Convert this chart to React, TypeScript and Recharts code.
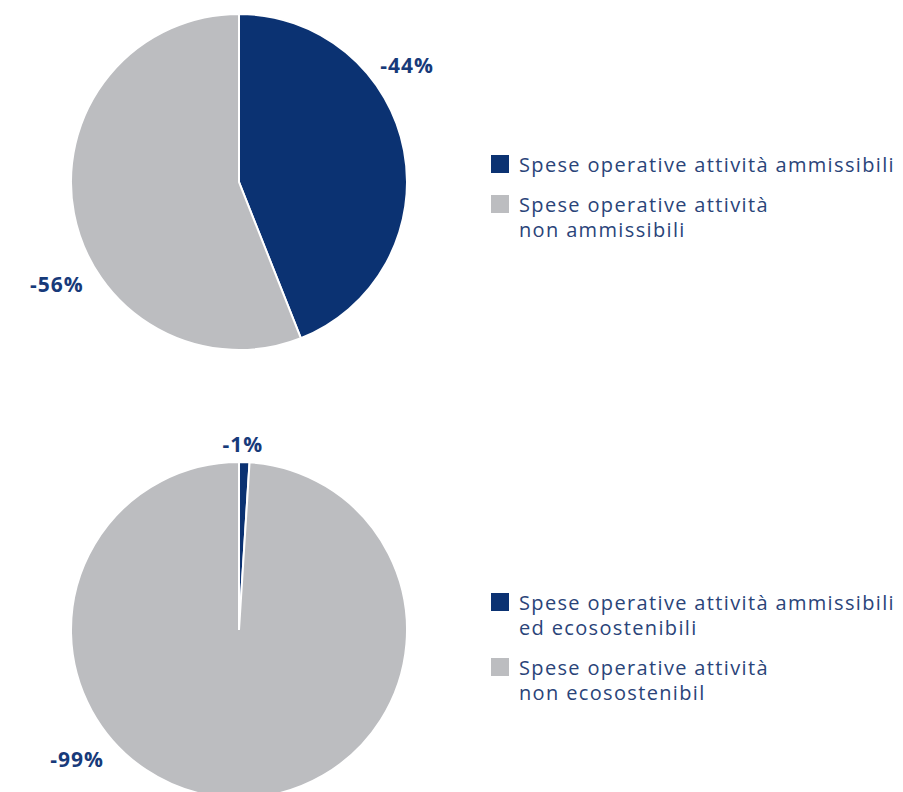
import { Pie, PieChart, Cell, Legend } from "recharts";

const NAVY = "#0b3272";
const GREY = "#bcbdc0";
const TEXT = "#2a4479";
const LABEL = "#173a7a";

const topNames = ["Spese operative attività ammissibili", "Spese operative attività\nnon ammissibili"];
const topValues = [44, 56];
const bottomNames = ["Spese operative attività ammissibili\ned ecosostenibili", "Spese operative attività\nnon ecosostenibil"];
const bottomValues = [1, 99];
const colors = [NAVY, GREY];

// where the percentage labels sit around each pie (degrees, px beyond centre)
const topLabelAngles = [34.9, 209.3];
const topLabelDist = [205, 209];
const bottomLabelAngles = [88.8, 218.5];
const bottomLabelDist = [186, 207];

const RAD = Math.PI / 180;

const makeLabel = (angles: number[], dists: number[]) => (props: any) => {
  const { cx, cy, index, value } = props;
  const a = angles[index] * RAD;
  const x = cx + dists[index] * Math.cos(a);
  const y = cy - dists[index] * Math.sin(a);
  return (
    <text
      x={x}
      y={y}
      fill={LABEL}
      textAnchor="middle"
      dominantBaseline="central"
      fontFamily="'Open Sans', sans-serif"
      fontWeight={700}
      fontSize={21}
      letterSpacing={1}
    >
      {`-${value}%`}
    </text>
  );
};

const LegendBox = ({ names }: { names: string[] }) => (
  <div
    style={{
      fontFamily: "'Open Sans', sans-serif",
      fontSize: 20,
      letterSpacing: 1.35,
      color: TEXT,
      lineHeight: "25px",
    }}
  >
    {names.map((n, i) => (
      <div key={n} style={{ display: "flex", alignItems: "flex-start", marginBottom: 15 }}>
        <div style={{ width: 18, height: 18, background: colors[i], marginTop: 3, marginRight: 10, flexShrink: 0 }} />
        <div style={{ whiteSpace: "pre-line" }}>{n}</div>
      </div>
    ))}
  </div>
);

const PieBlock = ({
  names,
  values,
  angles,
  dists,
  cy,
  legendTop,
}: {
  names: string[];
  values: number[];
  angles: number[];
  dists: number[];
  cy: number;
  legendTop: number;
}) => {
  const data = names.map((n, i) => ({ name: n, value: values[i] }));
  return (
    <PieChart width={903} height={396} margin={{ top: 0, right: 0, bottom: 0, left: 0 }}>
      <Pie
        data={data}
        dataKey="value"
        cx={239}
        cy={cy}
        outerRadius={168}
        startAngle={90}
        endAngle={-270}
        stroke="#ffffff"
        strokeWidth={2}
        label={makeLabel(angles, dists)}
        labelLine={false}
        isAnimationActive={false}
      >
        {data.map((d, i) => (
          <Cell key={d.name} fill={colors[i]} />
        ))}
      </Pie>
      <Legend
        layout="vertical"
        wrapperStyle={{ left: 491, top: legendTop, width: 412 }}
        content={() => <LegendBox names={names} />}
      />
    </PieChart>
  );
};

export default function App() {
  return (
    <div style={{ position: "absolute", left: 0, top: 0, width: 903, height: 792, background: "#fff", overflow: "hidden" }}>
      <div style={{ position: "absolute", left: 0, top: 0 }}>
        <PieBlock names={topNames} values={topValues} angles={topLabelAngles} dists={topLabelDist} cy={182} legendTop={152} />
      </div>
      <div style={{ position: "absolute", left: 0, top: 396 }}>
        <PieBlock names={bottomNames} values={bottomValues} angles={bottomLabelAngles} dists={bottomLabelDist} cy={234} legendTop={194} />
      </div>
    </div>
  );
}
